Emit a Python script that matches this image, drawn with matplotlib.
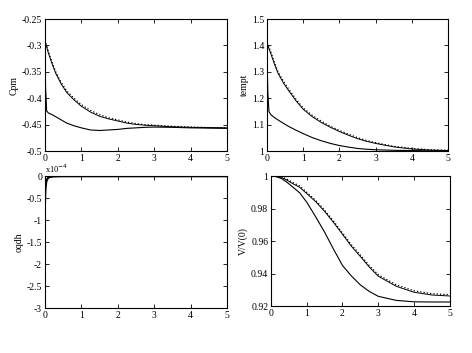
import matplotlib
matplotlib.use("Agg")
import matplotlib.pyplot as plt

plt.rcParams['font.family'] = ['Liberation Serif', 'DejaVu Serif']
plt.rcParams['font.size'] = 7

# time values
t = [0, 0.02, 0.05, 0.1, 0.2, 0.3, 0.45, 0.6, 0.8, 1.0, 1.25, 1.5, 1.75, 2.0, 2.25, 2.5, 2.75, 3.0, 3.5, 4.0, 4.5, 5.0]
t_q = [0, 0.01, 0.02, 0.04, 0.07, 0.1, 0.15, 0.25, 0.5, 1, 2, 3, 4, 5]

# Cpm
cpm_low = [-0.293, -0.380, -0.424, -0.428, -0.431, -0.435, -0.441, -0.447, -0.452, -0.456, -0.460, -0.461, -0.460, -0.459,
           -0.457, -0.456, -0.455, -0.4545, -0.455, -0.456, -0.4565, -0.457]
cpm_up = [-0.293, -0.297, -0.303, -0.315, -0.335, -0.353, -0.373, -0.389, -0.403, -0.415, -0.426, -0.434, -0.439, -0.443,
          -0.447, -0.4495, -0.451, -0.452, -0.454, -0.455, -0.4555, -0.456]
cpm_dot = [-0.290, -0.294, -0.300, -0.312, -0.332, -0.350, -0.370, -0.386, -0.400, -0.412, -0.423, -0.431, -0.437, -0.441,
           -0.445, -0.448, -0.450, -0.451, -0.453, -0.4545, -0.4555, -0.456]

# tempt
tmp_low = [1.33, 1.22, 1.15, 1.138, 1.127, 1.118, 1.105, 1.093, 1.079, 1.066, 1.051, 1.039, 1.029, 1.021,
           1.015, 1.010, 1.007, 1.005, 1.003, 1.002, 1.001, 1.001]
tmp_up = [1.405, 1.398, 1.388, 1.370, 1.330, 1.295, 1.258, 1.228, 1.190, 1.158, 1.130, 1.108, 1.090, 1.074,
          1.060, 1.047, 1.037, 1.029, 1.016, 1.008, 1.004, 1.002]
tmp_dot = [1.411, 1.404, 1.394, 1.376, 1.336, 1.301, 1.264, 1.234, 1.196, 1.163, 1.135, 1.113, 1.094, 1.078,
           1.064, 1.051, 1.040, 1.032, 1.018, 1.010, 1.005, 1.003]

# oqdh (x1e-4)
oq = [-0.65, -0.4, -0.25, -0.12, -0.06, -0.03, -0.015, -0.005, 0, 0, 0, 0, 0, 0]

# V/V(0)
v_low = [1.0, 1.0, 1.0, 0.9999, 0.9993, 0.9985, 0.9962, 0.9935, 0.9898, 0.984, 0.975, 0.9655, 0.955, 0.945,
         0.9385, 0.933, 0.929, 0.926, 0.9235, 0.9226, 0.9225, 0.9225]
v_up = [1.0, 1.0, 1.0, 0.99995, 0.9997, 0.9992, 0.9975, 0.9955, 0.9932, 0.9893, 0.9843, 0.9783, 0.9715, 0.9642,
        0.9568, 0.9505, 0.9440, 0.9384, 0.9322, 0.9285, 0.9268, 0.9262]
v_dot = [1.0, 1.0, 1.0, 0.99997, 0.9998, 0.9995, 0.9981, 0.9962, 0.9940, 0.9901, 0.9851, 0.9791, 0.9723, 0.9650,
         0.9577, 0.9514, 0.9449, 0.9393, 0.9331, 0.9294, 0.9276, 0.9270]

fig = plt.figure(figsize=(4.72, 3.53), dpi=100)

ax1 = fig.add_axes([0.095, 0.572, 0.386, 0.374])
ax2 = fig.add_axes([0.566, 0.572, 0.383, 0.374])
ax3 = fig.add_axes([0.095, 0.127, 0.386, 0.374])
ax4 = fig.add_axes([0.574, 0.133, 0.379, 0.368])

ax1.plot(t, cpm_low, 'k-', lw=0.8)
ax1.plot(t, cpm_up, 'k-', lw=0.7)
ax1.plot(t, cpm_dot, 'k:', lw=0.9)
ax1.set_ylim(-0.5, -0.25)
ax1.set_yticks([-0.5, -0.45, -0.4, -0.35, -0.3, -0.25])
ax1.set_yticklabels(['-0.5', '-0.45', '-0.4', '-0.35', '-0.3', '-0.25'])
ax1.set_ylabel('Cpm')

ax2.plot(t, tmp_low, 'k-', lw=0.8)
ax2.plot(t, tmp_up, 'k-', lw=0.7)
ax2.plot(t, tmp_dot, 'k:', lw=0.9)
ax2.set_ylim(1.0, 1.5)
ax2.set_yticks([1.0, 1.1, 1.2, 1.3, 1.4, 1.5])
ax2.set_yticklabels(['1', '1.1', '1.2', '1.3', '1.4', '1.5'])
ax2.set_ylabel('tempt')

ax3.plot(t_q, oq, 'k-', lw=1.6)
ax3.set_ylim(-3, 0)
ax3.set_yticks([-3, -2.5, -2, -1.5, -1, -0.5, 0])
ax3.set_yticklabels(['-3', '-2.5', '-2', '-1.5', '-1', '-0.5', '0'])
ax3.set_ylabel('oqdh')
ax3.text(0.0, 1.01, r'x10$^{-4}$', transform=ax3.transAxes, fontsize=6, va='bottom')

ax4.plot(t, v_low, 'k-', lw=0.8)
ax4.plot(t, v_up, 'k-', lw=0.7)
ax4.plot(t, v_dot, 'k:', lw=0.9)
ax4.set_ylim(0.92, 1.0)
ax4.set_yticks([0.92, 0.94, 0.96, 0.98, 1.0])
ax4.set_yticklabels(['0.92', '0.94', '0.96', '0.98', '1'])
ax4.set_ylabel('V/V(0)')

for ax in [ax1, ax2, ax3, ax4]:
    ax.set_xlim(0, 5)
    ax.set_xticks([0, 1, 2, 3, 4, 5])
    ax.tick_params(direction='in', top=True, right=True, length=3, width=0.6, pad=2, labelsize=7)
    for s in ax.spines.values():
        s.set_linewidth(0.8)
    ax.yaxis.labelpad = 2

fig.savefig('out.png', dpi=100)
